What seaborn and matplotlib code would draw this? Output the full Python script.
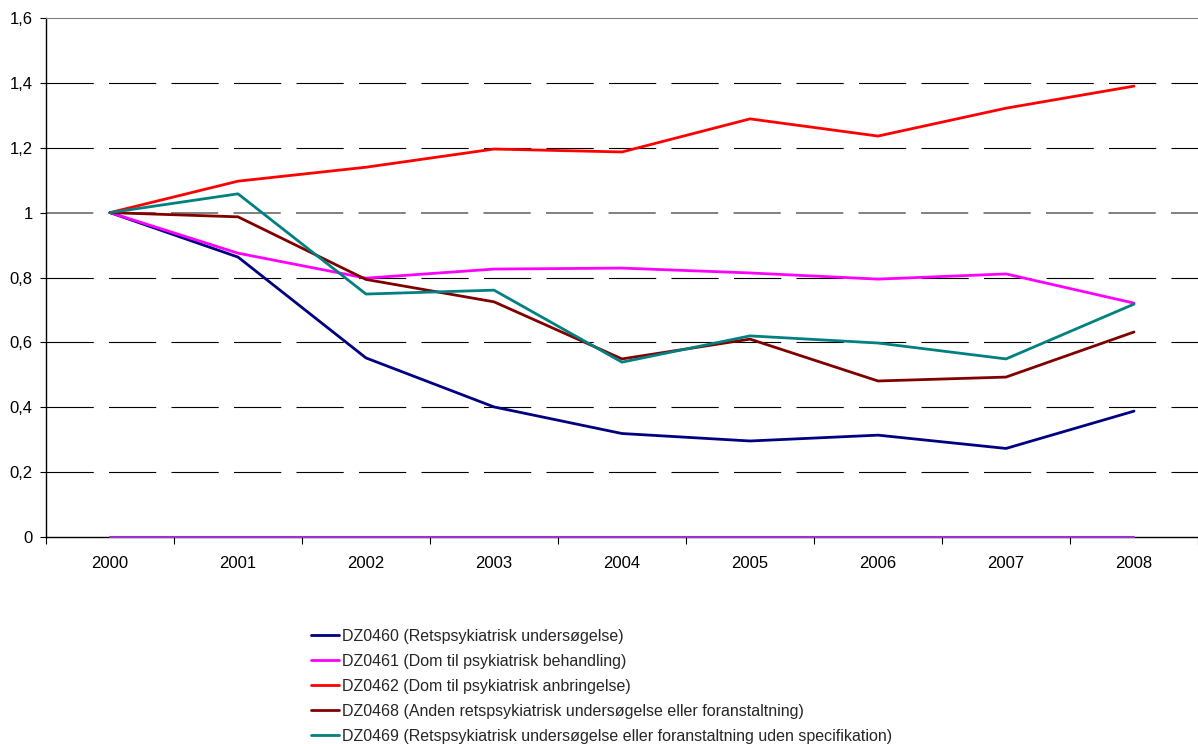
import pandas as pd
import matplotlib.pyplot as plt
import seaborn as sns

sns.set_style("white")
plt.rcParams['font.family'] = ['Liberation Sans', 'DejaVu Sans']
plt.rcParams['lines.scale_dashes'] = False

years = [2000, 2001, 2002, 2003, 2004, 2005, 2006, 2007, 2008]
dz0460 = [1.0, 0.863, 0.552, 0.401, 0.319, 0.296, 0.314, 0.273, 0.388]
dz0461 = [1.0, 0.875, 0.798, 0.826, 0.829, 0.814, 0.795, 0.811, 0.721]
dz0462 = [1.0, 1.097, 1.140, 1.196, 1.187, 1.289, 1.236, 1.322, 1.390]
dz0468 = [1.0, 0.987, 0.794, 0.725, 0.549, 0.610, 0.481, 0.493, 0.632]
dz0469 = [1.0, 1.058, 0.749, 0.761, 0.539, 0.620, 0.598, 0.549, 0.718]
zero_series = [0, 0, 0, 0, 0, 0, 0, 0, 0]

labels = [
    "DZ0460 (Retspsykiatrisk undersøgelse)",
    "DZ0461 (Dom til psykiatrisk behandling)",
    "DZ0462 (Dom til psykiatrisk anbringelse)",
    "DZ0468 (Anden retspsykiatrisk undersøgelse eller foranstaltning)",
    "DZ0469 (Retspsykiatrisk undersøgelse eller foranstaltning uden specifikation)",
]
colors = ["#000080", "#FF00FF", "#FF0000", "#800000", "#008080"]
yticks = [0, 0.2, 0.4, 0.6, 0.8, 1.0, 1.2, 1.4, 1.6]

rows = []
for lab, vals in zip(labels, [dz0460, dz0461, dz0462, dz0468, dz0469]):
    for i, v in enumerate(vals):
        rows.append({"pos": i, "value": v, "series": lab})
df = pd.DataFrame(rows)

fig = plt.figure(figsize=(11.98, 7.44), dpi=100)
ax = fig.add_axes([46 / 1198, 1 - 537 / 744, 1 - 46 / 1198, (537 - 18) / 744])

# gridlines
for t in yticks[1:-1]:
    if t == 1.0:
        ax.axhline(t, color="#808080", lw=1.4, ls=(0, (34, 11)), zorder=1)
    else:
        ax.axhline(t, color="black", lw=0.8, ls=(0, (34, 11)), zorder=1)

sns.lineplot(data=df, x="pos", y="value", hue="series", palette=colors,
             linewidth=2.0, ax=ax, legend=True, zorder=3)
ax.plot(range(len(years)), zero_series, color="#9933CC", lw=1.5, zorder=4, clip_on=False)

ax.set_xlim(-0.5, 8.5)
ax.set_ylim(0, 1.6)
ax.set_xticks(range(len(years)))
ax.set_xticklabels([str(y) for y in years])
ax.set_xticks([i + 0.5 for i in range(-1, 9)], minor=True)
ax.set_yticks(yticks)
ax.set_yticklabels(["0", "0,2", "0,4", "0,6", "0,8", "1", "1,2", "1,4", "1,6"])
ax.tick_params(axis="x", which="major", length=0, pad=14, labelsize=12, labelcolor="black")
ax.tick_params(axis="x", which="minor", length=5, width=0.8, color="black", direction="out", bottom=True)
ax.tick_params(axis="y", length=4.5, width=0.8, color="black", direction="out", left=True,
               labelsize=12, pad=5, labelcolor="black")
ax.set_xlabel("")
ax.set_ylabel("")

ax.spines["left"].set_color("black")
ax.spines["bottom"].set_color("black")
ax.spines["left"].set_linewidth(1.0)
ax.spines["bottom"].set_linewidth(1.0)
ax.spines["top"].set_color("#808080")
ax.spines["right"].set_visible(False)

leg = ax.legend(loc="upper left", bbox_to_anchor=(311 / 1198, 1 - 629 / 744),
                bbox_transform=fig.transFigure, frameon=False, fontsize=11.5,
                handlelength=1.75, handletextpad=0.2, labelspacing=0.62,
                borderaxespad=0, borderpad=0)
for line in leg.get_lines():
    line.set_linewidth(2.0)

fig.savefig("out.png", dpi=100)
